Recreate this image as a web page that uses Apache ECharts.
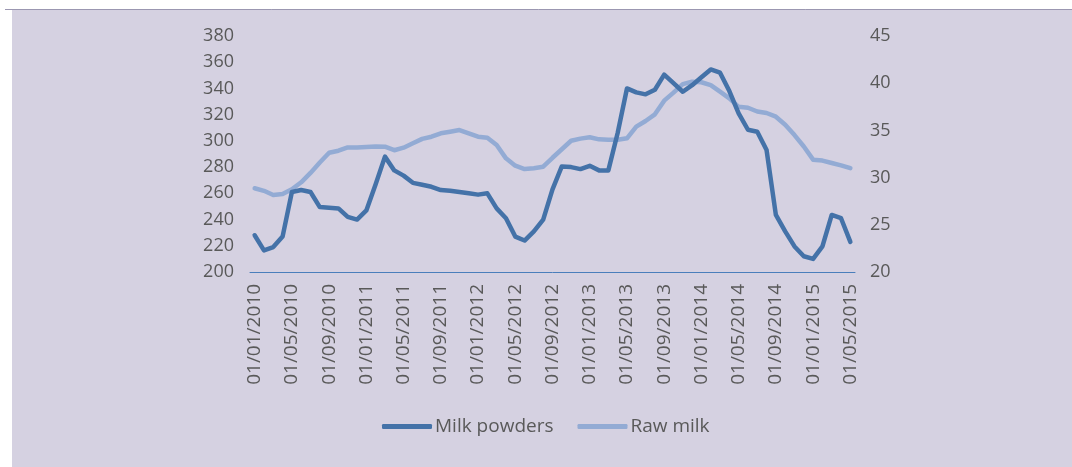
<!DOCTYPE html>
<html>
<head>
<meta charset="utf-8">
<script src="https://cdn.jsdelivr.net/npm/echarts@6/dist/echarts.min.js"></script>
<style>
html,body{margin:0;padding:0;background:#ffffff;}
#chart{width:1072px;height:467px;}
</style>
</head>
<body>
<div id="chart"></div>
<script>
// Monthly categories 01/01/2010 .. 01/05/2015
var categories = [];
for (var y = 2010; y <= 2015; y++) {
  for (var m = 1; m <= 12; m++) {
    if (y === 2015 && m > 5) break;
    categories.push('01/' + (m < 10 ? '0' + m : m) + '/' + y);
  }
}

var milkPowders = [
  228, 216.5, 219, 227, 261, 262.5, 261, 249.5, 249, 248.5, 242, 240,
  247, 267, 288, 277.5, 273.5, 268, 266.5, 265, 262.5, 262, 261, 260,
  259, 260, 248.5, 241, 227, 224, 231, 240, 263, 280.5, 280, 278.5,
  281, 277.5, 277.5, 306, 340, 337, 335.5, 339, 350.5, 344, 337.5, 342.5,
  348.5, 354.5, 352, 338, 321, 308.5, 307, 293, 243.5, 231, 219.5, 212,
  210, 219.5, 243.5, 241, 223
];

var rawMilk = [
  28.87, 28.6, 28.16, 28.26, 28.76, 29.5, 30.5, 31.6, 32.64, 32.85, 33.2, 33.2,
  33.25, 33.3, 33.27, 32.9, 33.17, 33.63, 34.1, 34.33, 34.69, 34.86, 35.04, 34.69,
  34.33, 34.23, 33.45, 32.04, 31.26, 30.9, 31.0, 31.15, 32.1, 33.0, 33.9, 34.13,
  34.27, 34.05, 34.0, 34.0, 34.16, 35.4, 36.0, 36.7, 38.15, 39.0, 39.9, 40.16,
  40.1, 39.8, 39.1, 38.4, 37.5, 37.4, 37.0, 36.84, 36.45, 35.6, 34.5, 33.3,
  31.9, 31.8, 31.55, 31.3, 31.0
];

var leftTicks = {min: 200, max: 380, interval: 20};
var rightTicks = {min: 20, max: 45, interval: 5};

var chart = echarts.init(document.getElementById('chart'), null, {renderer: 'canvas'});
var fontFamily = '"Open Sans", "Liberation Sans", sans-serif';
var textColor = '#595959';

chart.setOption({
  animation: false,
  backgroundColor: '#ffffff',
  graphic: [
    {type: 'rect', z: -10, silent: true,
     shape: {x: 12, y: 9, width: 1060, height: 458},
     style: {fill: '#d5d1e1'}},
    {type: 'line', z: -9, silent: true,
     shape: {x1: 5, y1: 9.5, x2: 1072, y2: 9.5},
     style: {stroke: '#9b97b1', lineWidth: 1}}
  ],
  grid: {left: 250, right: 217, top: 36, bottom: 195, containLabel: false},
  legend: {
    bottom: 26,
    left: 377,
    itemWidth: 50,
    itemHeight: 5,
    itemGap: 24,
    icon: 'roundRect',
    textStyle: {color: textColor, fontSize: 19, fontFamily: fontFamily, padding: [0, 0, 0, -2]},
    data: ['Milk powders', 'Raw milk']
  },
  xAxis: {
    type: 'category',
    data: categories,
    boundaryGap: true,
    axisLine: {show: true, onZero: false, lineStyle: {color: '#4a7ebb', width: 1}},
    axisTick: {show: false},
    axisLabel: {
      interval: 3,
      rotate: 90,
      margin: 12,
      color: textColor,
      fontSize: 19,
      fontFamily: fontFamily
    },
    splitLine: {show: false}
  },
  yAxis: [
    {
      type: 'value',
      min: leftTicks.min, max: leftTicks.max, interval: leftTicks.interval,
      position: 'left',
      axisLine: {show: false},
      axisTick: {show: false},
      splitLine: {show: false},
      axisLabel: {color: textColor, fontSize: 18, fontFamily: fontFamily, margin: 16, padding: [4, 0, 0, 0]}
    },
    {
      type: 'value',
      min: rightTicks.min, max: rightTicks.max, interval: rightTicks.interval,
      position: 'right',
      axisLabel: {color: textColor, fontSize: 18, fontFamily: fontFamily, margin: 15, padding: [4, 0, 0, 0]},
      axisLine: {show: false},
      axisTick: {show: false},
      splitLine: {show: false}
    }
  ],
  series: [
    {
      name: 'Milk powders',
      type: 'line',
      yAxisIndex: 0,
      data: milkPowders,
      symbol: 'none',
      z: 4,
      itemStyle: {color: '#4472a8'},
      lineStyle: {color: '#4472a8', width: 4.5, cap: 'round', join: 'round'}
    },
    {
      name: 'Raw milk',
      type: 'line',
      yAxisIndex: 1,
      data: rawMilk,
      symbol: 'none',
      z: 3,
      itemStyle: {color: '#93abd4'},
      lineStyle: {color: '#93abd4', width: 4.5, cap: 'round', join: 'round'}
    }
  ]
});
</script>
</body>
</html>
